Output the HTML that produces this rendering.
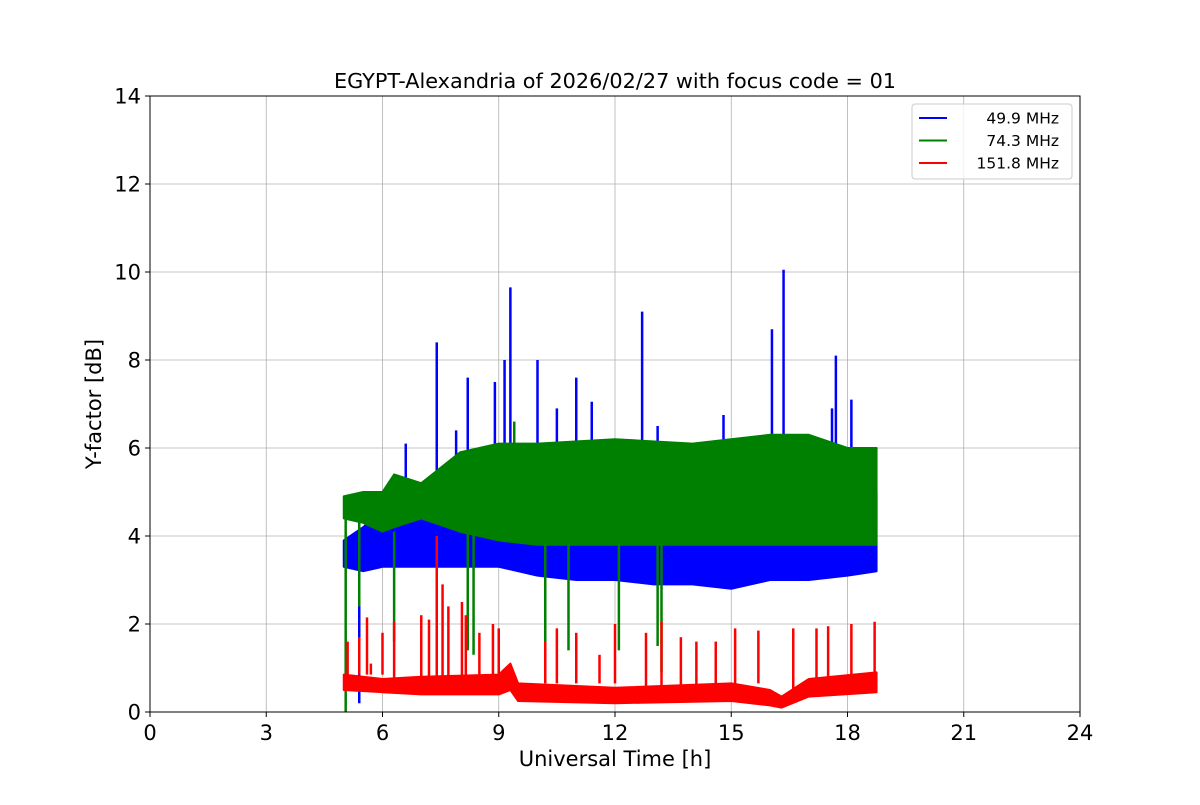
<!DOCTYPE html>
<html><head><meta charset="utf-8"><style>
body{margin:0;background:#fff;font-family:"Liberation Sans","DejaVu Sans",sans-serif}
svg text{font-family:"DejaVu Sans","Liberation Sans",sans-serif}
</style></head><body>
<svg id="chart" width="1200" height="800" xmlns="http://www.w3.org/2000/svg">
<rect width="1200" height="800" fill="#fff"/>
<g id="grid"></g><g id="series"></g><g id="axes"></g>
</svg>
<script>
const xTicks=[0,3,6,9,12,15,18,21,24];
const yTicks=[0,2,4,6,8,10,12,14];
const seriesNames=["49.9 MHz","74.3 MHz","151.8 MHz"];
const blueT=[5.0,5.5,6,7,8,9,10,11,12,13,14,15,16,17,18,18.75];
const blueLo=[3.3,3.2,3.3,3.3,3.3,3.3,3.1,3.0,3.0,2.9,2.9,2.8,3.0,3.0,3.1,3.2];
const blueHi=[3.9,4.2,4.6,4.6,5.0,5.5,5.7,5.6,5.5,5.2,5.0,4.7,4.8,4.7,4.8,5.0];
const blueSpikes=[[5.4,0.2],[6.6,6.1],[7.4,8.4],[7.9,6.4],[8.2,7.6],[8.9,7.5],[9.15,8.0],[9.3,9.65],[10.0,8.0],[10.5,6.9],[11.0,7.6],[11.4,7.05],[12.7,9.1],[13.1,6.5],[14.8,6.75],[16.05,8.7],[16.35,10.05],[17.6,6.9],[17.7,8.1],[18.1,7.1]];
const greenT=[5.0,5.5,6,6.3,7,8,9,10,12,14,16,17,18,18.75];
const greenLo=[4.4,4.3,4.1,4.2,4.4,4.1,3.9,3.8,3.8,3.8,3.8,3.8,3.8,3.8];
const greenHi=[4.9,5.0,5.0,5.4,5.2,5.9,6.1,6.1,6.2,6.1,6.3,6.3,6.0,6.0];
const greenSpikes=[[5.05,0],[5.4,2.4],[6.3,1.6],[8.2,1.4],[8.35,1.3],[9.4,6.6],[10.2,1.1],[10.8,1.4],[12.1,1.4],[13.1,1.5],[13.2,0.9]];
const redT=[5.0,6,7,9,9.3,9.5,12,15,16,16.3,17,18.75];
const redLo=[0.5,0.45,0.4,0.4,0.5,0.25,0.2,0.25,0.15,0.1,0.35,0.45];
const redHi=[0.85,0.75,0.8,0.85,1.1,0.65,0.55,0.65,0.5,0.35,0.75,0.9];
const redSpikes=[[5.1,1.6],[5.4,1.7],[5.6,2.15],[5.7,1.1],[6.0,1.8],[6.3,2.05],[7.0,2.2],[7.2,2.1],[7.4,4.0],[7.55,2.9],[7.7,2.4],[8.05,2.5],[8.15,2.2],[8.5,1.8],[8.85,2.0],[9.0,1.9],[10.2,1.6],[10.5,1.9],[11.0,1.8],[11.6,1.3],[12.0,2.0],[12.8,1.8],[13.2,2.05],[13.7,1.7],[14.1,1.6],[14.6,1.6],[15.1,1.9],[15.7,1.85],[16.6,1.9],[17.2,1.9],[17.5,1.95],[18.1,2.0],[18.7,2.05]];

const L=150,R=1080,T=96,B=712;
const xs=v=>L+(v/24)*(R-L);
const ys=v=>B-(v/14)*(B-T);
const NS="http://www.w3.org/2000/svg";
function mk(tag,attrs,parent){const e=document.createElementNS(NS,tag);for(const k in attrs)e.setAttribute(k,attrs[k]);parent.appendChild(e);return e;}
const grid=document.getElementById('grid'),ser=document.getElementById('series'),axes=document.getElementById('axes');
xTicks.forEach(t=>{const l=mk('line',{x1:xs(t),x2:xs(t),y1:T,y2:B,stroke:'#b0b0b0','stroke-width':0.8},grid);
});
yTicks.forEach(t=>{const l=mk('line',{x1:L,x2:R,y1:ys(t),y2:ys(t),stroke:'#b0b0b0','stroke-width':0.8},grid);
});
function drawSeries(name,color,tArr,lo,hi,spikes){
  const g=mk('g',{},ser);
  
  let pts=tArr.map((t,i)=>xs(t)+','+ys(hi[i]));
  for(let i=tArr.length-1;i>=0;i--)pts.push(xs(tArr[i])+','+ys(lo[i]));
  const p=mk('polygon',{points:pts.join(' '),fill:color,stroke:color,'stroke-width':2,'stroke-linejoin':'round'},g);
  
  spikes.forEach(s=>{
    let k=0;while(k<tArr.length-2&&tArr[k+1]<s[0])k++;
    const base=s[1]>hi[k]?hi[k]:lo[k];
    const l=mk('line',{x1:xs(s[0]),x2:xs(s[0]),y1:ys(base),y2:ys(s[1]),stroke:color,'stroke-width':2.5},g);
    
  });
}
drawSeries('series-49-9','#0000ff',blueT,blueLo,blueHi,blueSpikes);
drawSeries('series-74-3','#008000',greenT,greenLo,greenHi,greenSpikes);
drawSeries('series-151-8','#ff0000',redT,redLo,redHi,redSpikes);
const fr=mk('rect',{x:L,y:T,width:R-L,height:B-T,fill:'none',stroke:'#000','stroke-width':1},axes);

xTicks.forEach(t=>{mk('line',{x1:xs(t),x2:xs(t),y1:B,y2:B+5,stroke:'#000'},axes);
const tx=mk('text',{x:xs(t),y:B+28,'font-size':21,'text-anchor':'middle'},axes);tx.textContent=t;
});
yTicks.forEach(t=>{mk('line',{x1:L-5,x2:L,y1:ys(t),y2:ys(t),stroke:'#000'},axes);
const tx=mk('text',{x:L-9,y:ys(t)+7.5,'font-size':21,'text-anchor':'end'},axes);tx.textContent=t;
});
let t=mk('text',{x:615,y:88,'font-size':20.8,'text-anchor':'middle'},axes);t.textContent='EGYPT-Alexandria of 2026/02/27 with focus code = 01';

t=mk('text',{x:615,y:766,'font-size':21,'text-anchor':'middle'},axes);t.textContent='Universal Time [h]';

t=mk('text',{x:101,y:404,'font-size':21,'text-anchor':'middle',transform:'rotate(-90 101 404)'},axes);t.textContent='Y-factor [dB]';

const lg=mk('g',{},axes);
mk('rect',{x:912,y:104,width:160,height:75,rx:3,fill:'#fff','fill-opacity':0.8,stroke:'#ccc'},lg);
const cols=['#0000ff','#008000','#ff0000'];
seriesNames.forEach((n,i)=>{const y=118+i*22.5;
mk('line',{x1:919,x2:947,y1:y,y2:y,stroke:cols[i],'stroke-width':2},lg);
const e=mk('text',{x:1059,y:y+5.5,'font-size':15.5,'text-anchor':'end'},lg);e.textContent=n;
});
</script>
</body></html>
